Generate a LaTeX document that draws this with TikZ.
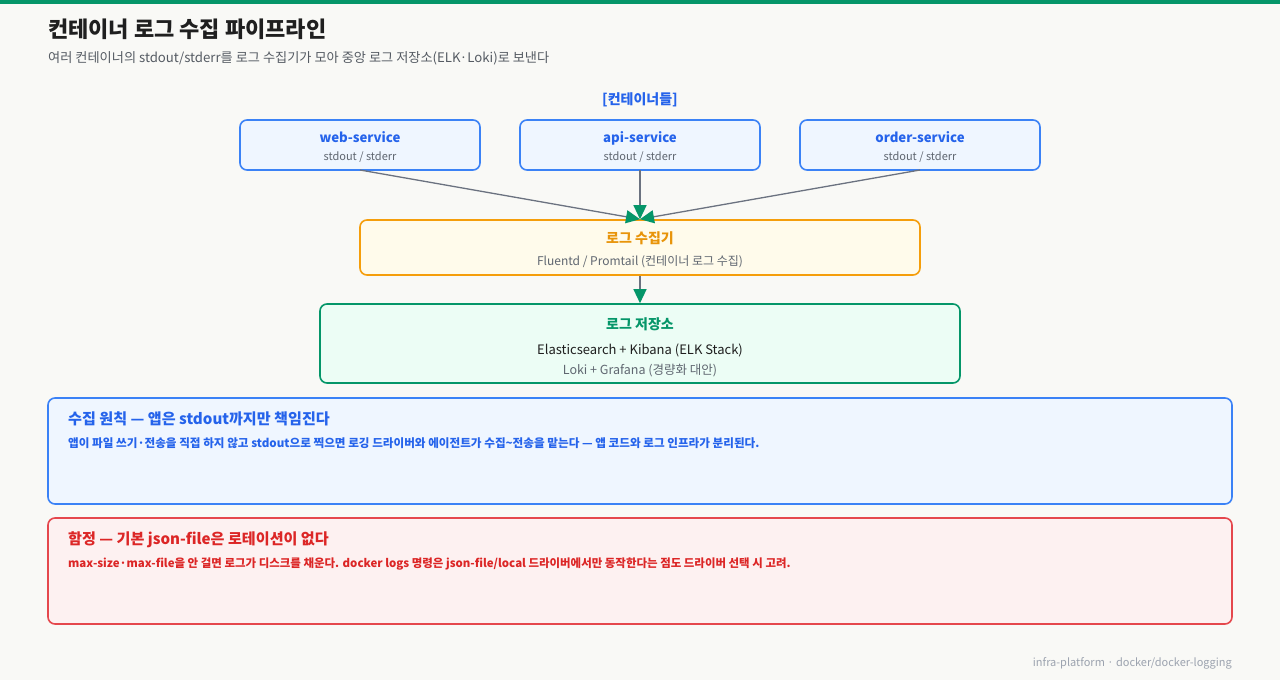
\documentclass[tikz,border=0pt]{standalone}
\usepackage{fontspec}
\setmainfont{Noto Sans CJK KR}
\usetikzlibrary{arrows.meta}
\definecolor{bg}{HTML}{F9F9F6}
\definecolor{topbar}{HTML}{059669}
\definecolor{titlec}{HTML}{1F1F1F}
\definecolor{subc}{HTML}{555B63}
\definecolor{blueS}{HTML}{3B82F6}
\definecolor{blueT}{HTML}{2563EB}
\definecolor{blueF}{HTML}{EFF6FF}
\definecolor{grayT}{HTML}{5F6670}
\definecolor{orS}{HTML}{F59E0B}
\definecolor{orT}{HTML}{E8940A}
\definecolor{orF}{HTML}{FFFBEB}
\definecolor{grS}{HTML}{059669}
\definecolor{grF}{HTML}{ECFDF5}
\definecolor{redS}{HTML}{E5484D}
\definecolor{redT}{HTML}{DC2626}
\definecolor{redF}{HTML}{FDF1F1}
\definecolor{lineC}{HTML}{6B7280}
\definecolor{footC}{HTML}{9CA3AF}
\tikzset{
  box/.style={draw, line width=1.6pt, rounded corners=7pt},
  svcbox/.style={box, draw=blueS, fill=blueF},
  txt/.style={inner sep=0pt, anchor=base},
  link/.style={draw=lineC, line width=1.3pt, -{Triangle[length=14pt,width=13pt,fill=grS,color=grS]}},
}
\begin{document}
\begin{tikzpicture}[x=1pt,y=-1pt]
\useasboundingbox (0,0) rectangle (1280,680);
\fill[bg] (0,0) rectangle (1280,680);
\fill[topbar] (0,0) rectangle (1280,4);
% title
\node[txt, anchor=base west, text=titlec, font=\bfseries\fontsize{22}{25}\selectfont] (title) at (48,37) {컨테이너 로그 수집 파이프라인};
\node[txt, anchor=base west, text=subc, font=\fontsize{13.2}{15}\selectfont] (subtitle) at (48,62) {여러 컨테이너의 stdout/stderr를 로그 수집기가 모아 중앙 로그 저장소(ELK·Loki)로 보낸다};
\node[txt, text=blueT, font=\bfseries\fontsize{14}{16}\selectfont] (grp) at (640,104) {[컨테이너들]};
% service boxes
\path[svcbox] (240,120) rectangle (480,170);
\path[svcbox] (520,120) rectangle (760,170);
\path[svcbox] (800,120) rectangle (1040,170);
\node[inner sep=0pt] (web) at (360,145) [minimum width=240pt, minimum height=50pt] {};
\node[inner sep=0pt] (api) at (640,145) [minimum width=240pt, minimum height=50pt] {};
\node[inner sep=0pt] (ord) at (920,145) [minimum width=240pt, minimum height=50pt] {};
\foreach \x/\t in {360/web-service,640/api-service,920/order-service}{
  \node[txt, text=blueT, font=\bfseries\fontsize{13.2}{16}\selectfont] at (\x,142) {\t};
  \node[txt, text=grayT, font=\fontsize{11}{13}\selectfont] at (\x,160) {stdout / stderr};
}
% collector
\node[box, draw=orS, fill=orF, minimum width=560pt, minimum height=55pt, inner sep=0pt] (col) at (640,247.5) {};
\node[txt, text=orT, font=\bfseries\fontsize{14}{16}\selectfont] at (640,243) {로그 수집기};
\node[txt, text=grayT, font=\fontsize{12}{14}\selectfont] at (640,265) {Fluentd / Promtail (컨테이너 로그 수집)};
% storage
\node[box, draw=grS, fill=grF, minimum width=640pt, minimum height=79pt, inner sep=0pt] (sto) at (640,343.5) {};
\node[txt, text=grS, font=\bfseries\fontsize{14}{16}\selectfont] at (640,329) {로그 저장소};
\node[txt, text=titlec, font=\fontsize{13}{15}\selectfont] at (640,354) {Elasticsearch + Kibana (ELK Stack)};
\node[txt, text=grayT, font=\fontsize{12.5}{14}\selectfont] at (640,374) {Loki + Grafana (경량화 대안)};
% arrows
\coordinate (webS) at (360,170);
\coordinate (apiS) at (640,170);
\coordinate (ordS) at (920,170);
\draw[link] (webS) -- (col.north);
\draw[link] (apiS) -- (col.north);
\draw[link] (ordS) -- (col.north);
\draw[link] (col.south) -- (sto.north);
% info box
\node[box, draw=blueS, fill=blueF, minimum width=1184pt, minimum height=106pt, inner sep=0pt] (info) at (640,451) {};
\node[txt, anchor=base west, text=blueT, font=\bfseries\fontsize{15.1}{17}\selectfont] at (68,424) {수집 원칙 — 앱은 stdout까지만 책임진다};
\node[txt, anchor=base west, text=blueT, font=\bfseries\fontsize{11.6}{13}\selectfont] at (68,447) {앱이 파일 쓰기·전송을 직접 하지 않고 stdout으로 찍으면 로깅 드라이버와 에이전트가 수집\textasciitilde 전송을 맡는다 — 앱 코드와 로그 인프라가 분리된다.};
% pitfall box
\node[box, draw=redS, fill=redF, minimum width=1184pt, minimum height=106pt, inner sep=0pt] (pit) at (640,571) {};
\node[txt, anchor=base west, text=redT, font=\bfseries\fontsize{15.1}{17}\selectfont] at (68,544) {함정 — 기본 json-file은 로테이션이 없다};
\node[txt, anchor=base west, text=redT, font=\bfseries\fontsize{11.45}{13}\selectfont] at (68,567) {max-size·max-file을 안 걸면 로그가 디스크를 채운다. docker logs 명령은 json-file/local 드라이버에서만 동작한다는 점도 드라이버 선택 시 고려.};
% footer
\node[txt, anchor=base east, text=footC, font=\fontsize{11}{13}\selectfont] (foot) at (1232,666) {infra-platform · docker/docker-logging};
\end{tikzpicture}
\end{document}
